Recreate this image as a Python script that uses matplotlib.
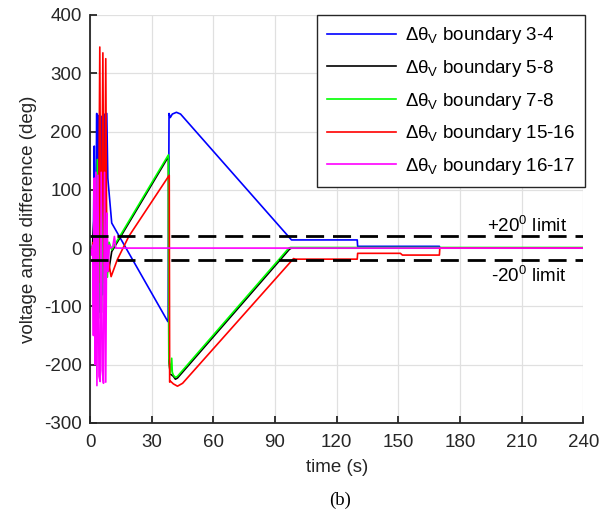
import matplotlib
matplotlib.use("Agg")
import matplotlib.pyplot as plt

plt.rcParams['font.family'] = ['Liberation Sans', 'DejaVu Sans']
plt.rcParams['mathtext.fontset'] = 'custom'
plt.rcParams['mathtext.rm'] = 'Liberation Sans'
plt.rcParams['mathtext.it'] = 'Liberation Sans'
plt.rcParams['mathtext.bf'] = 'Liberation Sans:bold'
plt.rcParams['axes.unicode_minus'] = False

# boundary 3-4
blue_t = [0, 0.6, 1.2, 1.6, 2.0, 2.4, 2.8, 3.2, 3.6, 4.0, 4.4, 4.8, 5.2, 5.6, 6.0, 6.4,
          6.8, 7.2, 7.6, 8.1, 8.6, 10.5, 37.8, 38.0, 38.4, 39.0, 40.0, 42.0, 44.0,
          97.5, 98.0, 130.0, 130.2, 170.0, 170.2, 240.0]
blue_v = [0, 2, -5, 30, 175, -60, 60, 231, -90, 150, 228, -110, 120, 226, -80, 200,
          230, -60, 150, 231, 120, 43, -126, -126, 231, 224, 230, 233, 230,
          16, 14, 14, 3, 3, 0, 0]

# boundary 5-8
black_t = [0, 1.0, 2.0, 3.0, 4.0, 5.0, 6.0, 7.0, 8.0, 9.0, 10.5, 38.1, 38.3, 39.0,
           40.5, 41.5, 42.5, 97.0, 98.0, 240.0]
black_v = [0, -5, 60, -60, 90, -80, 70, -60, 40, -40, -6, 157, -192, -216,
           -220, -225, -223, -2, 0, 0]

# boundary 7-8
green_t = [0, 1.0, 1.6, 2.2, 2.8, 3.5, 4.2, 4.9, 5.6, 6.3, 7.0, 7.7, 8.4, 9.2, 10.5,
           38.1, 38.3, 39.0, 39.7, 40.0, 40.5, 41.5, 42.5, 96.7, 97.5, 240.0]
green_v = [0, 3, -30, 90, -100, 152, -120, 125, -110, 120, -90, 100, -50, 10, -3,
           160, -190, -215, -189, -213, -218, -222, -220, 0, 1, 1]

# boundary 15-16
red_t = [0, 1.0, 1.5, 2.0, 2.5, 3.0, 3.5, 4.0, 4.7, 5.2, 5.7, 6.2, 6.7, 7.1, 7.6,
         8.1, 8.6, 10.2, 13.2, 18.8, 38.5, 38.7, 39.0, 40.5, 42.5, 45.0, 99.0,
         100.0, 130.0, 130.2, 151.0, 152.0, 170.0, 170.2, 240.0]
red_v = [0, -5, 10, -20, 60, -80, 100, -60, 345, -40, 80, 335, -30, 60, 325,
         -20, -15, -49, -20, 20, 125, -230, -228, -233, -237, -232, -18,
         -19, -19, -9, -9, -12, -12, 0, 0]

# boundary 16-17
mag_t = [0, 0.4, 0.8, 1.2, 1.6, 2.0, 2.4, 2.8, 3.3, 3.8, 4.3, 4.9, 5.4, 5.9, 6.5,
         7.0, 7.6, 8.1, 8.7, 9.3, 10.0, 11.0, 11.8, 12.5, 240.0]
mag_v = [0, -8, -12, 5, -150, 120, -200, 130, -236, 125, -220, -229, 130, -210, -232,
         130, -230, 60, -40, 5, 0, 2, 20, 0, 0]

labels = ['3-4', '5-8', '7-8', '15-16', '16-17']
limit = 20
fs = 13.5

fig = plt.figure(figsize=(6.05, 5.17), dpi=100)
ax = fig.add_axes([0.149, 0.182, 0.815, 0.789])

series = [(blue_t, blue_v, '#0000ff'), (black_t, black_v, '#000000'),
          (green_t, green_v, '#00ff00'), (red_t, red_v, '#ff0000'),
          (mag_t, mag_v, '#ff00ff')]
for (t, v, c), lab in zip(series, labels):
    ax.plot(t, v, color=c, lw=1.2,
            label=r'$\Delta\theta_{\mathrm{V}}$ boundary ' + lab)

for y in (limit, -limit):
    ax.axhline(y, color='black', lw=2, dashes=(6.5, 3.2), zorder=6)

ax.text(232, 28, r'+20$^{0}$ limit', ha='right', va='baseline', fontsize=fs)
ax.text(232, -58, r'-20$^{0}$ limit', ha='right', va='baseline', fontsize=fs)

ax.set_xlim(0, 240)
ax.set_ylim(-300, 400)
ax.set_xticks(range(0, 241, 30))
ax.set_yticks(range(-300, 401, 100))
ax.grid(True, color='#e0e0e0', lw=0.9)
ax.set_axisbelow(True)
for s in ('top', 'right'):
    ax.spines[s].set_visible(False)
for s in ('left', 'bottom'):
    ax.spines[s].set_color('#262626')
    ax.spines[s].set_linewidth(1.3)
ax.tick_params(axis='both', direction='in', length=5, width=1.3, color='#262626',
               labelsize=fs, labelcolor='#262626')
ax.tick_params(axis='x', pad=8)
ax.tick_params(axis='y', pad=6)

ax.set_xlabel('time (s)', fontsize=fs, color='#262626', labelpad=6)
ax.set_ylabel('voltage angle difference (deg)', fontsize=fs, color='#262626', labelpad=5)

leg = ax.legend(loc='upper right', bbox_to_anchor=(1.004, 1.0), borderaxespad=0,
                fontsize=fs, handlelength=3.7, handletextpad=0.45, labelspacing=0.62,
                fancybox=False, framealpha=1, edgecolor='#262626', borderpad=0.55)
leg.get_frame().set_linewidth(1.0)

fig.text(0.562, 0.033, '(b)', ha='center', va='center', fontsize=fs,
         family='Liberation Serif')

fig.savefig('out.png', dpi=100)
